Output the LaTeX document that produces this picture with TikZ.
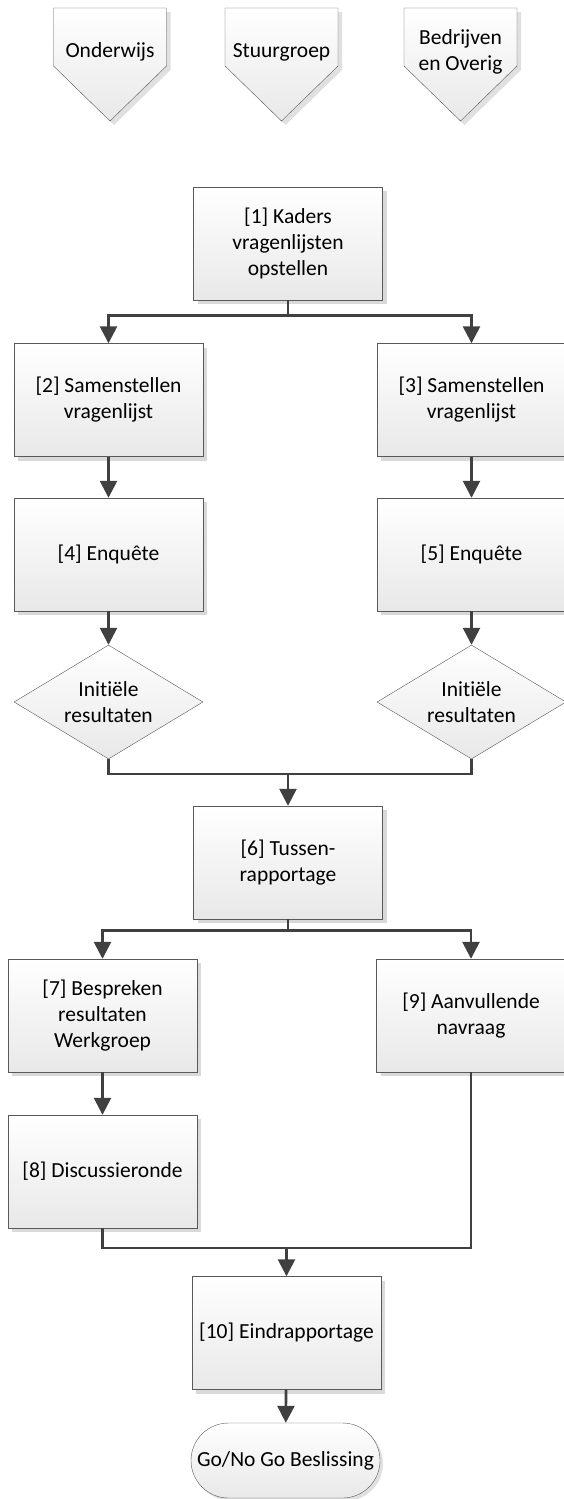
\documentclass[tikz,border=0pt]{standalone}
\usepackage{fontspec}
\setmainfont{Carlito}[Ligatures={NoCommon}]
\usepackage{tikz}
\usetikzlibrary{arrows.meta}
\usetikzlibrary{positioning,shapes,shadows}
\tikzset{
    box/.style={
        draw=black!65,
        rectangle,
        top color=white,
        bottom color=black!9,
        minimum width=189pt,
        minimum height=113pt,
        inner sep=0pt,
        align=center,
        drop shadow={shadow xshift=4pt, shadow yshift=-4pt, fill=black!15, opacity=1}
    },
    decision/.style={
        draw=black!65,
        diamond,
        aspect=1.66,
        top color=white,
        bottom color=black!9,
        minimum width=189pt,
        minimum height=114pt,
        inner sep=0pt,
        align=center
    },
    terminal/.style={
        draw=black!65,
        rounded rectangle,
        top color=white,
        bottom color=black!9,
        minimum width=189pt,
        minimum height=75pt,
        inner sep=0pt,
        drop shadow={shadow xshift=3pt, shadow yshift=-3pt, fill=black!12, opacity=1}
    },
    actor/.style={
        draw=black!65,
        top color=white,
        bottom color=black!9,
        drop shadow={shadow xshift=4pt, shadow yshift=-4pt, fill=black!12, opacity=1}
    },
    conn/.style={
        draw=black!75,
        line width=2.6pt
    },
    arrow/.style={
        conn,
        -{Triangle[length=17pt, width=17pt]}
    }
}
\tikzset{
  every node/.style={font=\fontsize{21.5}{26}\selectfont}
}

\begin{document}
\begin{tikzpicture}[x=1pt, y=-1pt]
  \useasboundingbox (0,0) rectangle (563,1499);

  % Stakeholders at the top
  \foreach \cx/\nm/\txt in {110/ond/Onderwijs, 281.5/stuur/Stuurgroep, 460.5/bedr/{Bedrijven\\en Overig}} {
    \draw[actor] (\cx-56.5,8) -- (\cx+56.5,8) -- (\cx+56.5,66) -- (\cx,121) -- (\cx-56.5,66) -- cycle;
    \node[align=center] (\nm) at (\cx,52) {\txt};
  }

  % Process steps
  \node[box] (kaders) at (288,243.5) {[1] Kaders\\vragenlijsten\\opstellen};
  \node[box] (samen2) at (108.5,400) {[2] Samenstellen\\vragenlijst};
  \node[box] (samen3) at (471.5,400) {[3] Samenstellen\\vragenlijst};
  \node[box] (enq4) at (108.5,554.5) {[4] Enquête};
  \node[box] (enq5) at (471.5,554.5) {[5] Enquête};
  \node[decision] (init1) at (108.5,702) {Initiële\\resultaten};
  \node[decision] (init2) at (471.5,702) {Initiële\\resultaten};
  \node[box] (tussen) at (288,862.5) {[6] Tussen-\\rapportage};
  \node[box] (bespr) at (102.5,1015.5) {[7] Bespreken\\resultaten\\Werkgroep};
  \node[box] (navr) at (471,1015.5) {[9] Aanvullende\\navraag};
  \node[box] (disc) at (102.5,1171.5) {[8] Discussieronde};
  \node[box] (eind) at (286.5,1333) {[10] Eindrapportage};
  \node[terminal] (gonogo) at (285.5,1460.5) {Go/No Go Beslissing};

  % Junction points
  \coordinate (merge1) at (288,774);
  \coordinate (merge2) at (286.5,1248);

  % Connect steps
  \draw[arrow] (kaders.south) -- ++(0,15) -| (samen2.north);
  \draw[arrow] (kaders.south) -- ++(0,15) -| (samen3.north);
  \draw[arrow] (samen2) -- (enq4);
  \draw[arrow] (samen3) -- (enq5);
  \draw[arrow] (enq4) -- (init1);
  \draw[arrow] (enq5) -- (init2);
  \draw[conn] (init1.south) |- (merge1) -| (init2.south);
  \draw[arrow] (merge1) -- (tussen.north);
  \draw[arrow] (tussen.south) -- ++(0,11) -| (bespr.north);
  \draw[arrow] (tussen.south) -- ++(0,11) -| (navr.north);
  \draw[arrow] (bespr) -- (disc);
  \draw[conn] (disc.south) |- (merge2) -| (navr.south);
  \draw[arrow] (merge2) -- (eind.north);
  \draw[arrow] (eind) -- (gonogo);
\end{tikzpicture}
\end{document}
